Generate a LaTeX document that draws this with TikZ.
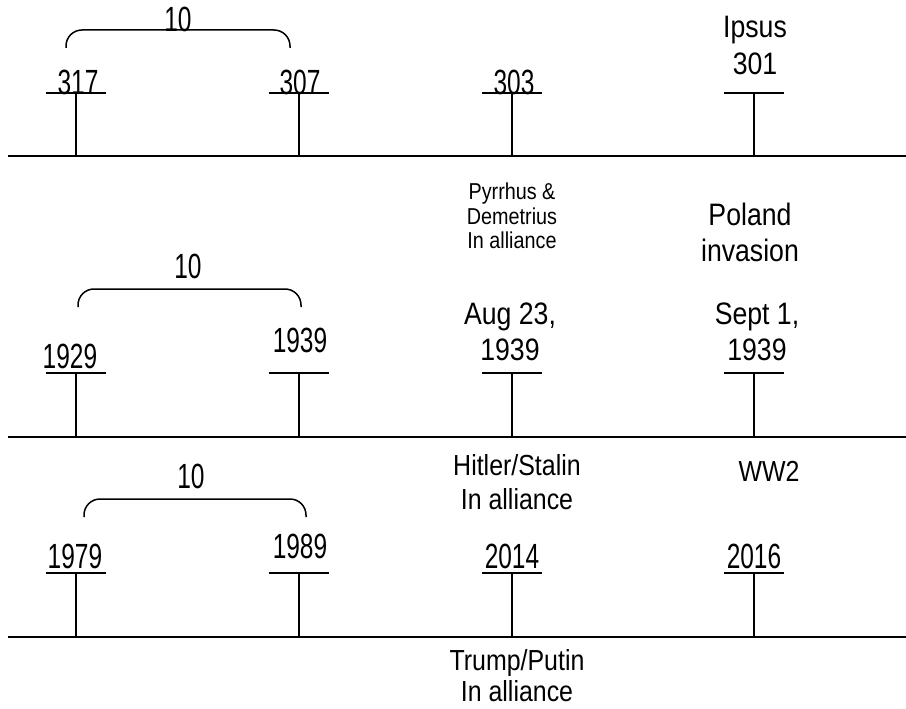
\documentclass[tikz,border=0pt]{standalone}
\usepackage{fontspec}
\setmainfont{Liberation Sans}[FakeStretch=0.86]
\newfontfamily\yearfont{Liberation Sans}[FakeStretch=0.70]
\usetikzlibrary{positioning}

\tikzset{
  axis/.style={line width=2pt},
  stem/.style={line width=1.4pt},
  brace/.style={line width=1.5pt, rounded corners=16pt},
  year/.style={font=\yearfont\fontsize{35}{38}\selectfont, inner sep=0pt, anchor=base},
  event/.style={font=\fontsize{31}{36}\selectfont, inner sep=0pt, anchor=north, align=center},
  pact/.style={font=\fontsize{29}{34}\selectfont, inner sep=0pt, anchor=north, align=center},
  smallevent/.style={font=\fontsize{23}{24.5}\selectfont, inner sep=0pt, anchor=north, align=center},
}

\begin{document}
\begin{tikzpicture}[x=1pt, y=-1pt]
    \useasboundingbox (0,0) rectangle (906,709);

    % 317 -- 301 BC
    \coordinate (A_0) at (8,156);
    \coordinate (A_5) at (906,156);
    \draw[axis] (A_0) -- (A_5);
    \foreach \x/\n in {76/1,299/2,512/3,754/4}{
        \coordinate (A_\n) at (\x,156);
        \coordinate (A_\n t) at (\x,93);
        \draw[stem] (A_\n) -- (A_\n t);
        \draw[stem] ([xshift=-30pt]A_\n t) -- ([xshift=30pt]A_\n t);
    }
    \node[year] (a317) at (78,95) {317};
    \node[year] (a307) at (300,95) {307};
    \node[year] (a303) at (514,95) {303};
    \node[event, font=\fontsize{31}{37}\selectfont] (ipsus) at (755,16) {Ipsus\\301};
    \draw[brace] (66,48) -- (66,30) -- (290,30) -- (290,48);
    \node[year] (a10) at (178,32) {10};
    \node[smallevent] (pyrrhus) at (512,183) {Pyrrhus \&\\Demetrius\\In alliance};

    % 1929 -- 1939
    \coordinate (B_0) at (8,437);
    \coordinate (B_5) at (906,437);
    \draw[axis] (B_0) -- (B_5);
    \foreach \x/\n in {76/1,299/2,512/3,754/4}{
        \coordinate (B_\n) at (\x,437);
        \coordinate (B_\n t) at (\x,373);
        \draw[stem] (B_\n) -- (B_\n t);
        \draw[stem] ([xshift=-30pt]B_\n t) -- ([xshift=30pt]B_\n t);
    }
    \node[year] (b1929) at (70,368) {1929};
    \node[year] (b1939) at (300,352) {1939};
    \node[event] (aug) at (510,303) {Aug 23,\\1939};
    \node[event] (sept) at (757,303) {Sept 1,\\1939};
    \node[event] (poland) at (750,203) {Poland\\invasion};
    \draw[brace] (78,307) -- (78,289) -- (301,289) -- (301,307);
    \node[year] (b10) at (188,278) {10};
    \node[pact] (hitler) at (517,454) {Hitler/Stalin\\In alliance};
    \node[pact] (ww2) at (769,461) {WW2};

    % 1979 -- 2016
    \coordinate (C_0) at (8,637);
    \coordinate (C_5) at (906,637);
    \draw[axis] (C_0) -- (C_5);
    \foreach \x/\n in {76/1,299/2,512/3,754/4}{
        \coordinate (C_\n) at (\x,637);
        \coordinate (C_\n t) at (\x,573);
        \draw[stem] (C_\n) -- (C_\n t);
        \draw[stem] ([xshift=-30pt]C_\n t) -- ([xshift=30pt]C_\n t);
    }
    \node[year] (c1979) at (75,568) {1979};
    \node[year] (c1989) at (300,558) {1989};
    \node[year] (c2014) at (512,568) {2014};
    \node[year] (c2016) at (754,568) {2016};
    \draw[brace] (84,517) -- (84,499) -- (306,499) -- (306,517);
    \node[year] (c10) at (191,488) {10};
    \node[pact, font=\fontsize{29}{31}\selectfont] (trump) at (517,649) {Trump/Putin\\In alliance};
\end{tikzpicture}
\end{document}
